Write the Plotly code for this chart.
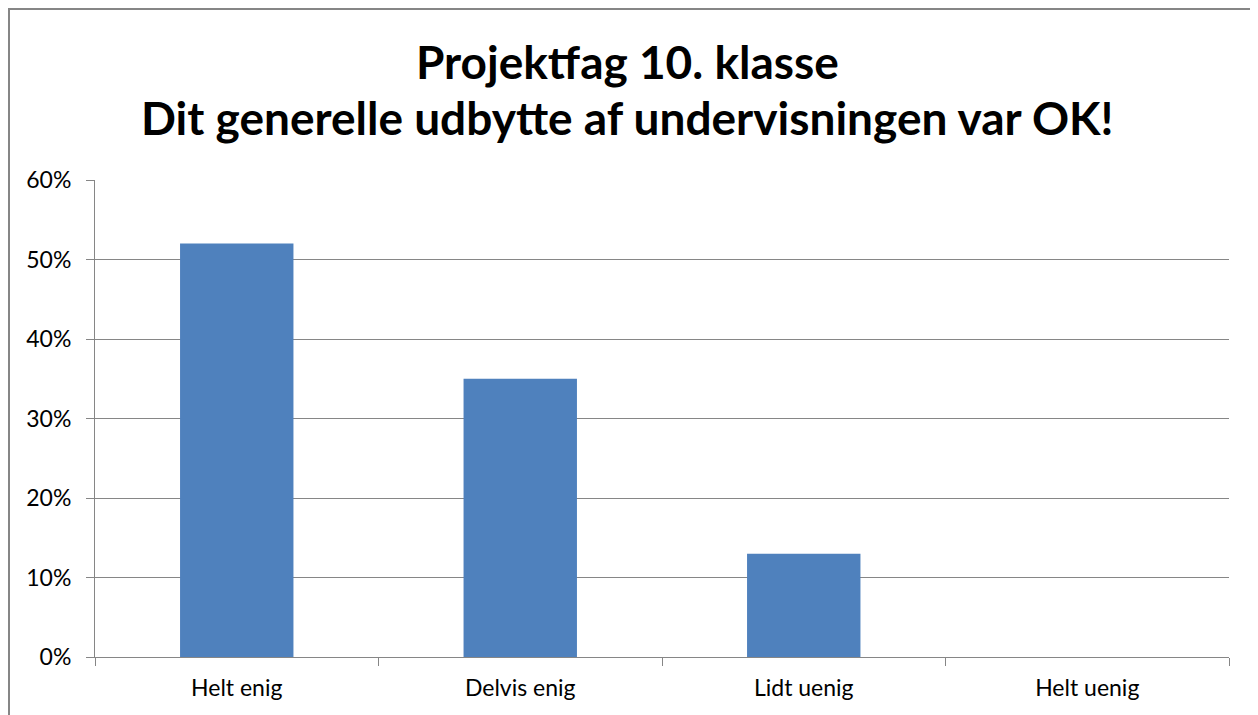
import plotly.graph_objects as go

kategorier = ['Helt enig', 'Delvis enig', 'Lidt uenig', 'Helt uenig']
andel = [0.52, 0.35, 0.13, 0.0]
y_ticks = [0, 0.1, 0.2, 0.3, 0.4, 0.5, 0.6]
y_labels = ['0%', '10%', '20%', '30%', '40%', '50%', '60%']
titel = ['Projektfag 10. klasse', 'Dit generelle udbytte af undervisningen var OK!']

grid = '#868686'
fnt = 'Lato, Open Sans, sans-serif'

fig = go.Figure()
fig.add_trace(go.Bar(
    x=kategorier,
    y=andel,
    marker_color='#4F81BD',
    marker_line_width=0,
))

# siden har 8px margin, saa alt er forskudt 8px
fig.update_layout(
    width=1258, height=715,
    margin=dict(l=87, r=37, t=172, b=66),
    paper_bgcolor='white', plot_bgcolor='white',
    bargap=0.6,
    showlegend=False,
    font=dict(family=fnt, color='black', size=23),
)
# titel i to linjer
for linje, ypos in zip(titel, [(649 - 54) / 477, (649 - 110) / 477]):
    fig.add_annotation(text='<b>' + linje + '</b>', xref='paper', yref='paper',
                       x=(619 - 87) / 1134, y=ypos, xanchor='center', yanchor='middle',
                       showarrow=False, font=dict(family=fnt, size=46, color='black'))

fig.update_yaxes(
    range=[0, 0.6], tickvals=y_ticks, ticktext=y_labels,
    showgrid=True, gridcolor=grid, gridwidth=1,
    showline=True, linecolor=grid, linewidth=1,
    ticks='outside', ticklen=8, tickcolor=grid,
    ticklabelstandoff=10,
    zeroline=False,
)
fig.update_xaxes(
    showline=True, linecolor=grid, linewidth=1,
    ticks='outside', ticklen=8, tickcolor=grid,
    tickson='boundaries',
    ticklabelstandoff=10,
    showgrid=False,
)
# ramme om diagrammet
fig.add_shape(type='rect', xref='paper', yref='paper',
              x0=(1 - 87) / 1134, x1=1.2, y0=-0.3, y1=(649 - 1) / 477,
              line=dict(color=grid, width=2), layer='below')

fig.write_html("out.html")
